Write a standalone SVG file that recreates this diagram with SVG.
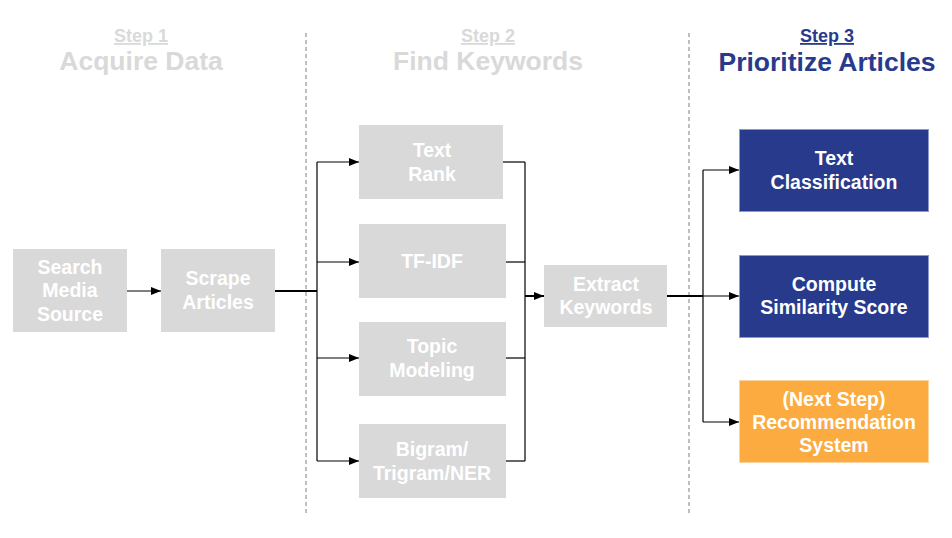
<svg xmlns="http://www.w3.org/2000/svg" width="952" height="538" viewBox="0 0 952 538">
<defs>
<marker id="ah" markerWidth="10" markerHeight="8" refX="10" refY="4" orient="auto" markerUnits="userSpaceOnUse">
<path d="M0,0 L10,4 L0,8 Z" fill="#000"/>
</marker>
<style>
text{font-family:"Liberation Sans",Arial,sans-serif;font-weight:bold;text-anchor:middle}
.gbox{fill:#d9d9d9}
.bbox{fill:#283a8c;stroke:#8d98cc;stroke-width:1}
.obox{fill:#fbab40;stroke:#fdd49e;stroke-width:1}
.lbl{fill:#fff;font-size:19.5px}
.step{font-size:18px;text-decoration:underline}
.title{font-size:26.5px}
.dim{fill:#d9d9d9}
.act{fill:#283a8c}
.dash{stroke:#7f7f7f;stroke-width:1;stroke-dasharray:4 3;fill:none}
.c{stroke:#000;stroke-width:1.2;fill:none}
.thick{stroke:#000;stroke-width:2;fill:none}
</style>
</defs>
<rect width="952" height="538" fill="#fff"/>

<g id="headers">
<text class="step dim" x="141" y="42">Step 1</text>
<text class="title dim" x="141" y="70">Acquire Data</text>
<text class="step dim" x="488" y="42">Step 2</text>
<text class="title dim" x="488" y="70">Find Keywords</text>
<text class="step act" x="827" y="42">Step 3</text>
<text class="title act" x="827" y="71">Prioritize Articles</text>
</g>

<g id="dividers">
<line class="dash" x1="306" y1="33" x2="306" y2="514"/>
<line class="dash" x1="689" y1="33" x2="689" y2="514"/>
</g>

<g id="connectors">
<line class="c" x1="127" y1="291" x2="161" y2="291" marker-end="url(#ah)"/>
<line class="thick" x1="275" y1="291" x2="317" y2="291"/>
<line class="c" x1="317" y1="162" x2="317" y2="461"/>
<line class="c" x1="317" y1="162" x2="359" y2="162" marker-end="url(#ah)"/>
<line class="c" x1="317" y1="262" x2="359" y2="262" marker-end="url(#ah)"/>
<line class="c" x1="317" y1="358" x2="359" y2="358" marker-end="url(#ah)"/>
<line class="c" x1="317" y1="461" x2="359" y2="461" marker-end="url(#ah)"/>
<line class="c" x1="503" y1="162" x2="525" y2="162"/>
<line class="c" x1="506" y1="262" x2="525" y2="262"/>
<line class="c" x1="506" y1="358" x2="525" y2="358"/>
<line class="c" x1="506" y1="461" x2="525" y2="461"/>
<line class="c" x1="525" y1="162" x2="525" y2="461"/>
<line class="thick" x1="525" y1="296" x2="544" y2="296" marker-end="url(#ah)"/>
<line class="thick" x1="667" y1="296" x2="703" y2="296"/>
<line class="c" x1="703" y1="170" x2="703" y2="422"/>
<line class="c" x1="703" y1="170" x2="739" y2="170" marker-end="url(#ah)"/>
<line class="c" x1="703" y1="296" x2="739" y2="296" marker-end="url(#ah)"/>
<line class="c" x1="703" y1="422" x2="739" y2="422" marker-end="url(#ah)"/>
</g>

<g id="search">
<rect class="gbox" x="13" y="249" width="114" height="83"/>
<text class="lbl" x="70" y="274">Search</text>
<text class="lbl" x="70" y="297">Media</text>
<text class="lbl" x="70" y="321">Source</text>
</g>
<g id="scrape">
<rect class="gbox" x="161" y="249" width="114" height="83"/>
<text class="lbl" x="218" y="285">Scrape</text>
<text class="lbl" x="218" y="309">Articles</text>
</g>
<g id="textrank">
<rect class="gbox" x="359" y="125" width="144" height="74"/>
<text class="lbl" x="432" y="157">Text</text>
<text class="lbl" x="432" y="181">Rank</text>
</g>
<g id="tfidf">
<rect class="gbox" x="359" y="224" width="147" height="74"/>
<text class="lbl" x="432" y="268">TF-IDF</text>
</g>
<g id="topic">
<rect class="gbox" x="359" y="322" width="147" height="74"/>
<text class="lbl" x="432" y="353">Topic</text>
<text class="lbl" x="432" y="377">Modeling</text>
</g>
<g id="bigram">
<rect class="gbox" x="359" y="424" width="147" height="74"/>
<text class="lbl" x="432" y="456">Bigram/</text>
<text class="lbl" x="432" y="480">Trigram/NER</text>
</g>
<g id="extract">
<rect class="gbox" x="544" y="265" width="123" height="62"/>
<text class="lbl" x="606" y="291">Extract</text>
<text class="lbl" x="606" y="314">Keywords</text>
</g>
<g id="classification">
<rect class="bbox" x="739.5" y="129.5" width="189" height="82"/>
<text class="lbl" x="834" y="165">Text</text>
<text class="lbl" x="834" y="189">Classification</text>
</g>
<g id="similarity">
<rect class="bbox" x="739.5" y="255.5" width="189" height="82"/>
<text class="lbl" x="834" y="291">Compute</text>
<text class="lbl" x="834" y="314">Similarity Score</text>
</g>
<g id="recommendation">
<rect class="obox" x="739.5" y="380.5" width="189" height="82"/>
<text class="lbl" x="834" y="406">(Next Step)</text>
<text class="lbl" x="834" y="429">Recommendation</text>
<text class="lbl" x="834" y="452">System</text>
</g>
</svg>
